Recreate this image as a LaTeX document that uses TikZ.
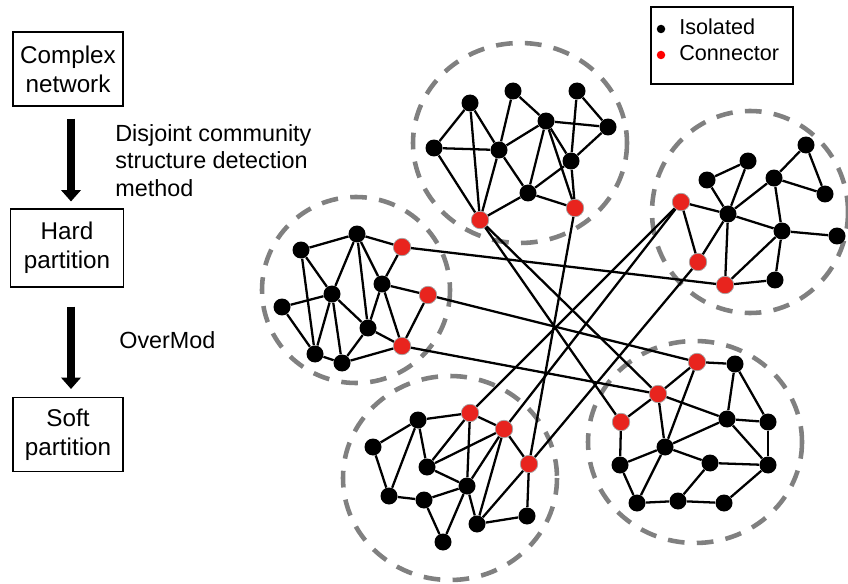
\documentclass[tikz,border=0pt]{standalone}
\usepackage{fontspec}
\setmainfont{Liberation Sans}
\usetikzlibrary{arrows.meta}
\definecolor{conred}{RGB}{232,36,30}
\tikzset{
  iso/.style={circle,fill=black,inner sep=0pt,minimum size=0.34cm},
  con/.style={circle,fill=conred,draw=gray!70,line width=0.4pt,inner sep=0pt,minimum size=0.35cm},
  edge/.style={line width=1.3pt},
  community/.style={gray,line width=2.6pt,dash pattern=on 9.5pt off 7pt},
  stepbox/.style={draw,line width=0.6pt,minimum width=2.2cm,minimum height=1.48cm,
    align=center,inner sep=0pt,font=\fontsize{13.8}{16.6}\selectfont},
  flowarrow/.style={line width=4.5pt,-{Triangle[length=6.5pt,width=11pt]}},
  steplabel/.style={inner sep=0pt,align=left,font=\fontsize{13.3}{15.6}\selectfont},
}

\begin{document}
\begin{tikzpicture}[x=0.02cm,y=-0.02cm]
  \useasboundingbox (0,0) rectangle (848,584);

  % the three steps
  \node[stepbox] (complex) at (68,69) {Complex\\network};
  \node[stepbox,minimum width=2.26cm,minimum height=1.56cm] (hard) at (67,248) {Hard\\partition};
  \node[stepbox] (soft) at (68,434.5) {Soft\\partition};

  \draw[flowarrow,shorten <=0.24cm,shorten >=0.14cm] ([xshift=0.06cm]complex.south) -- ([xshift=0.08cm]hard.north);
  \draw[flowarrow,shorten <=0.38cm,shorten >=0.16cm] ([xshift=0.08cm]hard.south) -- ([xshift=0.06cm]soft.north);

  \node[steplabel,anchor=north west] (method) at (115,124) {Disjoint community\\structure detection\\method};
  \node[steplabel,anchor=base west] (overmod) at (119,348) {OverMod};

  % legend
  \node[draw,line width=0.9pt,minimum width=2.84cm,minimum height=1.54cm,inner sep=0pt] (legend) at (722,45.5) {};
  \node[circle,fill=black,inner sep=0pt,minimum size=0.17cm] (isodot) at (661,29) {};
  \node[circle,fill=red,inner sep=0pt,minimum size=0.17cm] (condot) at (661,55) {};
  \node[anchor=base west,inner sep=0pt,font=\fontsize{12.3}{14}\selectfont] (isotext) at (679,35) {Isolated};
  \node[anchor=base west,inner sep=0pt,font=\fontsize{12.3}{14}\selectfont] (context) at (679,61) {Connector};

  % communities
  \draw[community] (520,143) ellipse [x radius=107, y radius=100];
  \draw[community] (750,212) ellipse [x radius=98, y radius=101];
  \draw[community] (356,290) ellipse [x radius=94, y radius=93];
  \draw[community] (450,478) ellipse [x radius=107, y radius=102];
  \draw[community] (695,442) ellipse [x radius=107, y radius=101];

  % top community
  \node[iso] (t1) at (470,103) {};
  \node[iso] (t2) at (513,91) {};
  \node[iso] (t3) at (577,91) {};
  \node[iso] (t4) at (434,148) {};
  \node[iso] (t5) at (499,150) {};
  \node[iso] (t6) at (546,121) {};
  \node[iso] (t7) at (608,127) {};
  \node[iso] (t8) at (571,161) {};
  \node[iso] (t9) at (528,193) {};
  \node[con] (tc1) at (480,220) {};
  \node[con] (tc2) at (575,208) {};

  % right community
  \node[iso] (r1) at (707,180) {};
  \node[iso] (r2) at (748,161) {};
  \node[iso] (r3) at (806,145) {};
  \node[iso] (r4) at (774,178) {};
  \node[iso] (r5) at (825,194) {};
  \node[iso] (r6) at (728,214) {};
  \node[iso] (r7) at (782,231) {};
  \node[iso] (r8) at (837,236) {};
  \node[iso] (r9) at (775,280) {};
  \node[con] (rc1) at (681,202) {};
  \node[con] (rc2) at (698,262) {};
  \node[con] (rc3) at (725,285) {};

  % left community
  \node[iso] (l1) at (301,250) {};
  \node[iso] (l2) at (357,234) {};
  \node[iso] (l3) at (282,307) {};
  \node[iso] (l4) at (332,294) {};
  \node[iso] (l5) at (382,284) {};
  \node[iso] (l6) at (368,328) {};
  \node[iso] (l7) at (315,354) {};
  \node[iso] (l8) at (342,363) {};
  \node[con] (lc1) at (402,247) {};
  \node[con] (lc2) at (428,295) {};
  \node[con] (lc3) at (402,346) {};

  % bottom community
  \node[iso] (b1) at (418,420) {};
  \node[iso] (b2) at (373,447) {};
  \node[iso] (b3) at (427,467) {};
  \node[iso] (b4) at (467,486) {};
  \node[iso] (b5) at (389,496) {};
  \node[iso] (b6) at (424,500) {};
  \node[iso] (b7) at (477,524) {};
  \node[iso] (b8) at (527,516) {};
  \node[iso] (b9) at (443,542) {};
  \node[con] (bc1) at (470,413) {};
  \node[con] (bc2) at (504,429) {};
  \node[con] (bc3) at (529,464) {};

  % bottom right community
  \node[iso] (e1) at (735,364) {};
  \node[iso] (e2) at (727,419) {};
  \node[iso] (e3) at (768,422) {};
  \node[iso] (e4) at (665,447) {};
  \node[iso] (e5) at (620,465) {};
  \node[iso] (e6) at (710,463) {};
  \node[iso] (e7) at (768,465) {};
  \node[iso] (e8) at (637,503) {};
  \node[iso] (e9) at (678,501) {};
  \node[iso] (e10) at (724,503) {};
  \node[con] (ec1) at (697,362) {};
  \node[con] (ec2) at (658,394) {};
  \node[con] (ec3) at (621,422) {};

  % links inside the communities
  \foreach \a/\b in {t1/t4,t1/t5,t1/tc1,t4/t5,t4/tc1,t5/tc1,t2/t5,t5/t6,t5/t9,t2/t6,t6/t7,t6/t9,
      t6/t8,t6/tc2,t3/t8,t3/t7,t7/t8,t8/t9,t8/tc2,t9/tc1,t9/tc2}
    \draw[edge] (\a) -- (\b);
  \foreach \a/\b in {r1/r2,r1/r6,r2/r6,r4/r3,r3/r5,r4/r5,r4/r6,r4/r7,r6/r7,r6/rc1,r6/rc2,r6/rc3,
      r7/r8,r7/r9,r7/rc3,r9/rc3,rc1/rc2}
    \draw[edge] (\a) -- (\b);
  \foreach \a/\b in {l1/l2,l1/l4,l1/l7,l2/l4,l2/l6,l2/l5,l2/lc1,l3/l4,l3/l7,l4/l7,l4/l8,l4/l6,
      l6/l8,l5/l6,l5/lc1,l5/lc2,l5/lc3,l6/lc3,l8/lc3,lc2/lc3,l7/l8}
    \draw[edge] (\a) -- (\b);
  \foreach \a/\b in {b1/b2,b1/b5,b1/b3,b1/bc1,b2/b5,b3/bc1,b3/bc2,b3/b4,b4/bc1,b4/bc2,b4/b6,
      b4/b9,b4/b7,b5/b6,b6/b9,b7/bc2,b7/bc3,b7/b8,b8/bc3,bc1/bc2,bc2/bc3}
    \draw[edge] (\a) -- (\b);
  \foreach \a/\b in {ec1/e1,ec1/ec2,ec1/e4,ec2/ec3,ec2/e4,ec2/e2,e1/e2,e1/e3,e2/e3,e2/e4,e2/e7,
      e3/e7,e4/e5,e4/e6,e4/e8,e5/ec3,e5/e8,e6/e9,e6/e7,e7/e10,e8/e9,e9/e10}
    \draw[edge] (\a) -- (\b);

  % links between connectors
  \foreach \a/\b in {lc1/rc3,lc2/ec1,lc3/ec2,tc1/ec2,tc1/ec3,tc2/bc3,rc1/bc1,rc1/bc2,rc2/bc3}
    \draw[edge] (\a) -- (\b);

\end{tikzpicture}
\end{document}
